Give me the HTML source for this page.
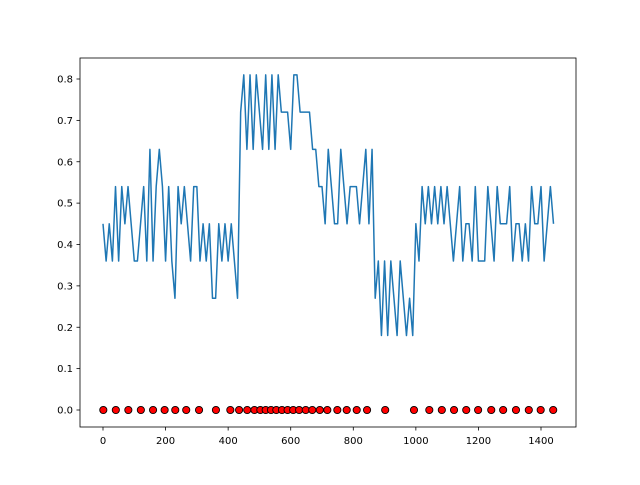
<!DOCTYPE html>
<html><head><meta charset="utf-8"><style>
html,body{margin:0;padding:0;background:#fff;}
svg text{font-family:"DejaVu Sans","Liberation Sans",sans-serif;font-size:10px;fill:#000;}
</style></head><body>
<svg id="chart" width="640" height="480" viewBox="0 0 640 480">
<rect x="0" y="0" width="640" height="480" fill="#fff"/>
<g id="marks"></g>
<rect x="80" y="58" width="496" height="369" fill="none" stroke="#000" stroke-width="0.8"/>
<g id="axes"></g>
</svg>
<script>
const lineStep = 10;
const lineValues = [
.45,.36,.45,.36,.54,.36,.54,.45,.54,.45,.36,.36,.45,.54,.36,.63,.36,.54,.63,.54,
.36,.54,.36,.27,.54,.45,.54,.45,.36,.54,.54,.36,.45,.36,.45,.27,.27,.45,.36,.45,
.36,.45,.36,.27,
.72,.81,.63,.81,.63,.81,.72,.63,.81,.63,
.81,.63,.81,.72,.72,.72,.63,.81,.81,.72,.72,.72,.72,.63,.63,.54,
.54,.45,.63,.54,.45,.45,.63,.54,.45,.54,.54,.54,.45,.54,.63,.45,.63,
.27,.36,.18,.36,.18,.36,.27,.18,.36,.27,.18,.27,.18,.45,
.36,.54,.45,.54,.45,.54,.45,
.54,.45,.54,.45,.36,.45,.54,.36,.45,.45,.36,.54,.36,.36,.36,.54,.45,.36,.54,.45,
.45,.45,.54,.36,.45,.45,.36,.45,.36,.54,.45,.45,.54,.36,.45,.54,.45
];
const dotX = [1,41,81,121,160,197,231,266,307,361,407,435,461,484,503,520,537,554,572,590,608,627,648,669,693,717,749,779,811,844,902,994,1043,1083,1122,1161,1199,1241,1279,1320,1361,1399,1439];
const dotY = dotX.map(()=>0);
const xTicks = [0,200,400,600,800,1000,1200,1400];
const yTicks = [0.0,0.1,0.2,0.3,0.4,0.5,0.6,0.7,0.8];
const yTickLabels = ["0.0","0.1","0.2","0.3","0.4","0.5","0.6","0.7","0.8"];

const NS="http://www.w3.org/2000/svg";
function sx(v){return 103+v*(438/1400);}
function sy(v){return 410-v*(331/0.8);}
const marks=document.getElementById('marks');
const axes=document.getElementById('axes');
function mk(tag,attrs,parent){const e=document.createElementNS(NS,tag);for(const k in attrs)e.setAttribute(k,attrs[k]);parent.appendChild(e);return e;}

let d='';
lineValues.forEach((v,i)=>{d+=(i?'L':'M')+sx(i*lineStep).toFixed(2)+' '+sy(v).toFixed(2);});
const line=mk('path',{d:d,fill:'none',stroke:'#1f77b4','stroke-width':1.5,'stroke-linejoin':'round'},marks);



dotX.forEach((x,i)=>{
  const c=mk('circle',{cx:sx(x),cy:sy(dotY[i]),r:3.6,fill:'#ff0000',stroke:'#000','stroke-width':0.9},marks);
  
  
});

xTicks.forEach(t=>{
  const x=sx(t);
  const tk=mk('line',{x1:x,x2:x,y1:427,y2:430.5,stroke:'#000','stroke-width':0.8},axes);
  
  
  const tx=mk('text',{x:x,y:444,'text-anchor':'middle'},axes);
  tx.textContent=String(t);
  
  
});
yTicks.forEach((t,i)=>{
  const y=sy(t);
  const tk=mk('line',{x1:76.5,x2:80,y1:y,y2:y,stroke:'#000','stroke-width':0.8},axes);
  
  
  const tx=mk('text',{x:73,y:y+3.5,'text-anchor':'end'},axes);
  tx.textContent=yTickLabels[i];
  
  
});
</script>
</body></html>
